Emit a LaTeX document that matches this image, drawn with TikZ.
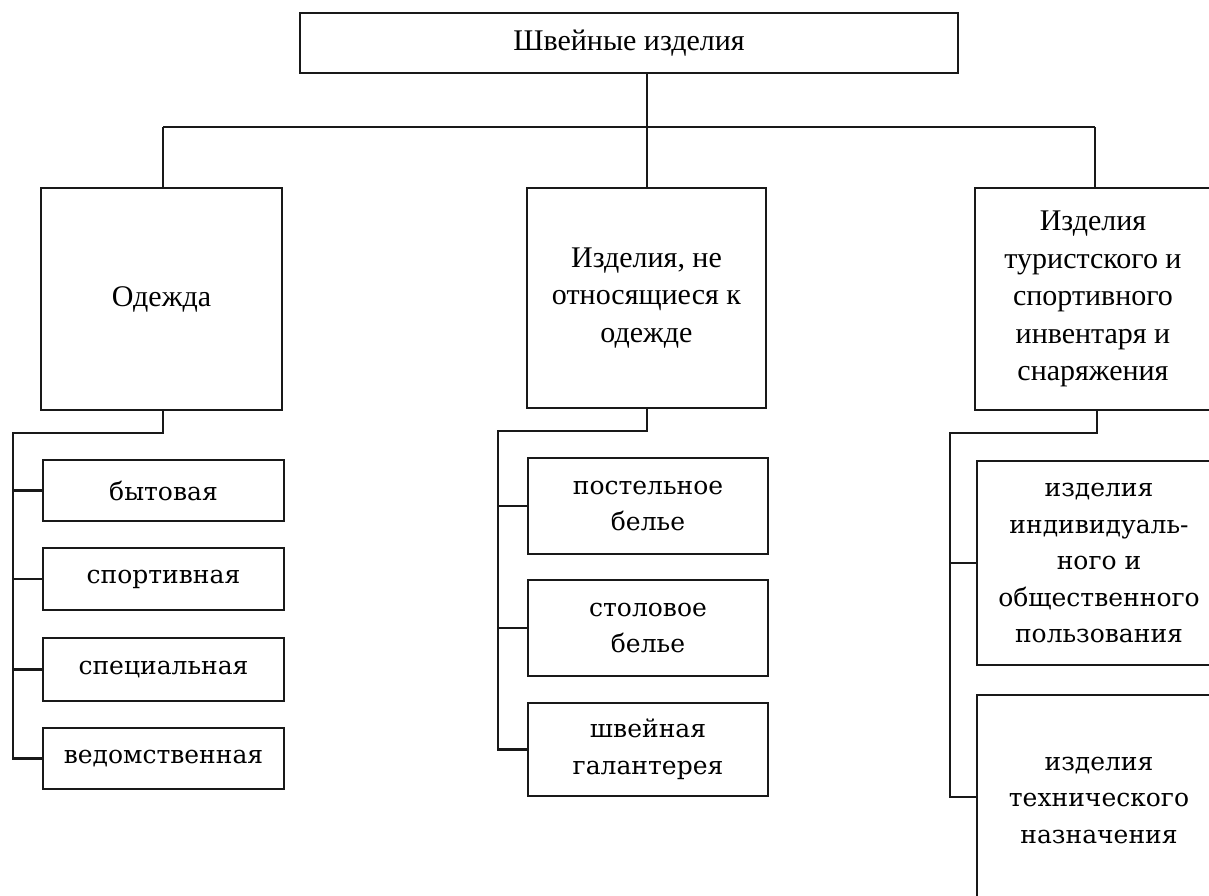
\documentclass[tikz,border=0pt]{standalone}
\usepackage{fontspec}
\setmainfont{Liberation Serif}
\newfontfamily\subfont{DejaVu Serif}
\begin{document}
\begin{tikzpicture}[x=1pt,y=-1pt,
  box/.style={draw=black!90, line width=2.1pt, align=center, inner sep=2pt},
  topbox/.style={box, font=\fontsize{30}{37.5}\selectfont},
  subbox/.style={box, font=\subfont\fontsize{25}{36.5}\selectfont},
  conn/.style={draw=black!90, line width=2.1pt}]
\useasboundingbox (0,0) rectangle (1209,895);
\clip (0,0) rectangle (1209,895);
\fill[white] (0,0) rectangle (1209,895);

\node[topbox, minimum width=658pt, minimum height=60pt] (root) at (629,43) {Швейные изделия};

\node[topbox, minimum width=241pt, minimum height=222pt] (od) at (161.5,299) {Одежда};
\node[topbox, minimum width=239pt, minimum height=220pt] (ne) at (646.5,298) {Изделия, не\\относящиеся к\\одежде};
\node[topbox, minimum width=236pt, minimum height=222pt] (tu) at (1093,299) {Изделия\\туристского и\\спортивного\\инвентаря и\\снаряжения};

\node[subbox, minimum width=241pt, minimum height=61pt] (s1) at (163.5,490.5) {бытовая};
\node[subbox, minimum width=241pt, minimum height=62pt] (s2) at (163.5,579) {спортивная};
\node[subbox, minimum width=241pt, minimum height=63pt] (s3) at (163.5,669.5) {специальная};
\node[subbox, minimum width=241pt, minimum height=61pt] (s4) at (163.5,758.5) {ведомственная};

\node[subbox, minimum width=240pt, minimum height=96pt] (m1) at (648,506) {постельное\\белье};
\node[subbox, minimum width=240pt, minimum height=96pt] (m2) at (648,628) {столовое\\белье};
\node[subbox, minimum width=240pt, minimum height=93pt] (m3) at (648,749.5) {швейная\\галантерея};

\node[subbox, minimum width=244pt, minimum height=204pt] (r1) at (1099,563) {изделия\\индивидуаль-\\ного и\\общественного\\пользования};
\node[subbox, minimum width=244pt, minimum height=210pt] (r2) at (1099,800) {изделия\\технического\\назначения};

% top level
\coordinate (J) at (647,127);
\coordinate (JL) at (163,127);
\coordinate (JR) at (1095,127);
\draw[conn] (root.south -| J) -- (J);
\draw[conn] (JL) -- (JR);
\draw[conn] (JL) -- (JL |- od.north);
\draw[conn] (J) -- (J |- ne.north);
\draw[conn] (JR) -- (JR |- tu.north);

% left subtree
\coordinate (L) at (13,433);
\draw[conn] (od.south -| 163,0) |- (L) |- (s4.west);
\draw[conn] (L |- s1.west) -- (s1.west);
\draw[conn] (L |- s2.west) -- (s2.west);
\draw[conn] (L |- s3.west) -- (s3.west);

% middle subtree
\coordinate (M) at (498,431);
\draw[conn] (ne.south -| 647,0) |- (M) |- (m3.west);
\draw[conn] (M |- m1.west) -- (m1.west);
\draw[conn] (M |- m2.west) -- (m2.west);

% right subtree
\coordinate (R) at (950,433);
\draw[conn] (tu.south -| 1097,0) |- (R) |- (0,797 -| r2.west);
\draw[conn] (R |- r1.west) -- (r1.west);
\end{tikzpicture}
\end{document}
